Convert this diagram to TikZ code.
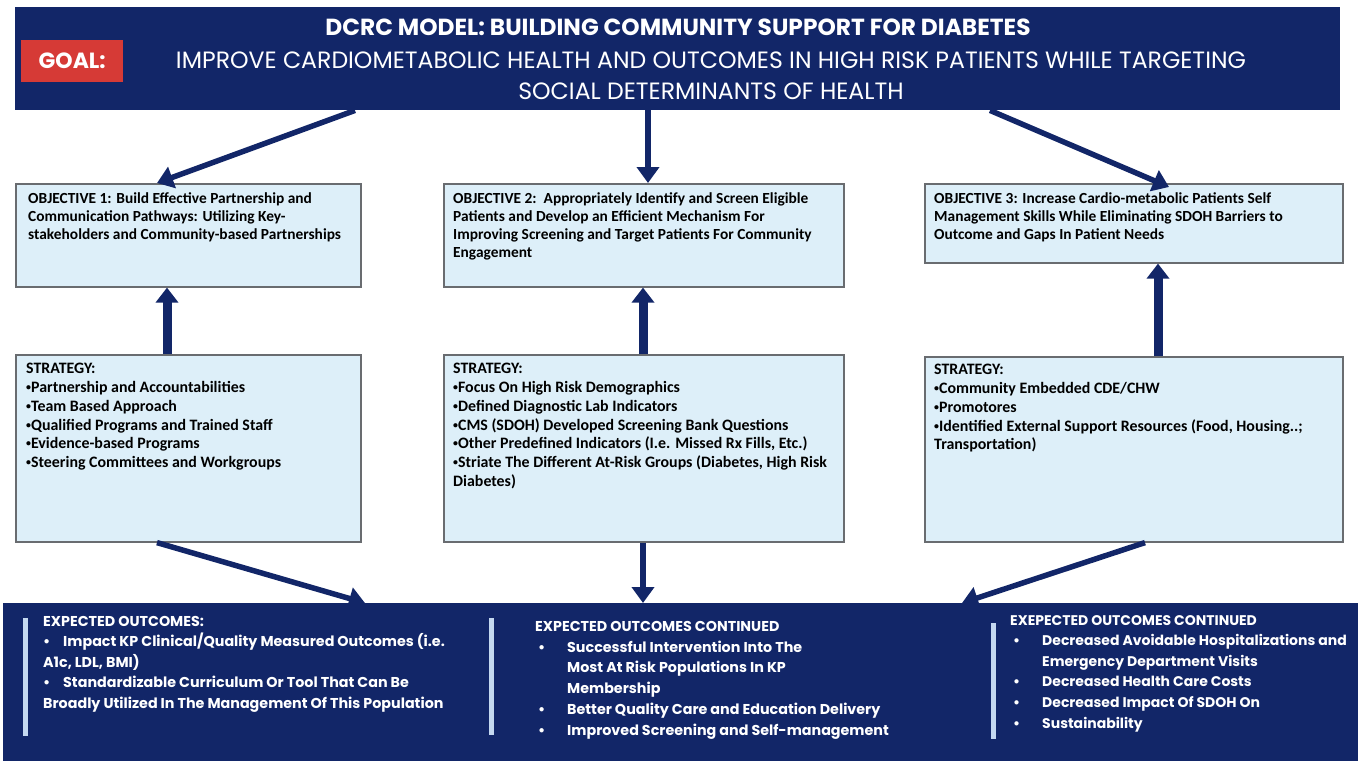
\documentclass[tikz,border=0pt]{standalone}
\usepackage{graphicx}
\usepackage{fontspec}
\setmainfont{Carlito}
\newfontfamily\gothic{Poppins}
\usetikzlibrary{arrows.meta}
\definecolor{navy}{RGB}{18,38,104}
\definecolor{paleblue}{RGB}{221,239,249}
\definecolor{frame}{RGB}{105,108,112}
\definecolor{goalred}{RGB}{214,58,54}
\definecolor{rulebar}{RGB}{196,216,240}
% small list dot used inside the light boxes
\newcommand\listdot{\raisebox{0.25ex}{\scalebox{0.62}{\textbullet}}}
\begin{document}
\begin{tikzpicture}[x=1pt,y=-1pt,
  band/.style={fill=navy,draw=none,inner sep=0,anchor=north west},
  card/.style={fill=paleblue,draw=frame,line width=1.6pt,inner sep=0,anchor=north west},
  cardtext/.style={anchor=north west,inner sep=0,align=left,font=\bfseries\fontsize{15.9}{18.8}\selectfont},
  objtext/.style={cardtext,font=\bfseries\fontsize{15.4}{18.2}\selectfont},
  outtext/.style={anchor=north west,inner sep=0,align=left,text=white},
  flow/.style={draw=navy,line width=5.5pt,-{Triangle[width=22pt,length=16pt]}},
  lift/.style={draw=navy,line width=9pt,-{Triangle[width=22pt,length=15pt]}},
  divider/.style={fill=rulebar,draw=none,inner sep=0,minimum width=5pt,anchor=north west}
]
\useasboundingbox (0,0) rectangle (1358,761);

% ---- header band ----
\node[band,minimum width=1325pt,minimum height=103pt] (hdr) at (15,7) {};
\node[fill=goalred,minimum width=102pt,minimum height=42pt,anchor=north west,inner sep=0,
      text=white,font=\gothic\bfseries\fontsize{22}{22}\selectfont] (goal) at (21,40) {GOAL:};
\node[inner sep=0,text=white,font=\gothic\bfseries\fontsize{23.3}{23.3}\selectfont] (title) at (678,27)
  {DCRC MODEL: BUILDING COMMUNITY SUPPORT FOR DIABETES};
\node[inner sep=0,text=white,font=\gothic\fontsize{23.6}{23.6}\selectfont] (goal1) at (711,60.5)
  {IMPROVE CARDIOMETABOLIC HEALTH AND OUTCOMES IN HIGH RISK PATIENTS WHILE TARGETING};
\node[inner sep=0,text=white,font=\gothic\fontsize{23.6}{23.6}\selectfont] (goal2) at (711,91)
  {SOCIAL DETERMINANTS OF HEALTH};

% ---- objectives ----
\node[card,minimum width=345pt,minimum height=103pt] (o1) at (15,183) {};
\node[card,minimum width=400pt,minimum height=103pt] (o2) at (443,183) {};
\node[card,minimum width=418pt,minimum height=79pt] (o3) at (924,183) {};
\node[objtext] (o1t) at (28,192) {OBJECTIVE 1: Build Effective Partnership and\\
  Communication Pathways: Utilizing Key-\\stakeholders and Community-based Partnerships};
\node[objtext] (o2t) at (453,192) {OBJECTIVE 2:\ \ Appropriately Identify and Screen Eligible\\
  Patients and Develop an Efficient Mechanism For\\
  Improving Screening and Target Patients For Community\\Engagement};
\node[objtext] (o3t) at (934,192) {OBJECTIVE 3: Increase Cardio-metabolic Patients Self\\
  Management Skills While Eliminating SDOH Barriers to\\Outcome and Gaps In Patient Needs};

% ---- strategies ----
\node[card,minimum width=345pt,minimum height=187pt] (s1) at (15,354) {};
\node[card,minimum width=400pt,minimum height=187pt] (s2) at (443,354) {};
\node[card,minimum width=418pt,minimum height=185pt] (s3) at (924,356) {};
\node[cardtext] (s1t) at (26,363) {STRATEGY:\\\listdot Partnership and Accountabilities\\
  \listdot Team Based Approach\\\listdot Qualified Programs and Trained Staff\\
  \listdot Evidence-based Programs\\\listdot Steering Committees and Workgroups};
\node[cardtext] (s2t) at (453,363) {STRATEGY:\\\listdot Focus On High Risk Demographics\\
  \listdot Defined Diagnostic Lab Indicators\\
  \listdot CMS (SDOH) Developed Screening Bank Questions\\
  \listdot Other Predefined Indicators (I.e. Missed Rx Fills, Etc.)\\
  \listdot Striate The Different At-Risk Groups (Diabetes, High Risk\\Diabetes)};
\node[cardtext] (s3t) at (934,364) {STRATEGY:\\\listdot Community Embedded CDE/CHW\\
  \listdot Promotores\\
  \listdot Identified External Support Resources (Food, Housing..;\\Transportation)};

% ---- outcomes band ----
\node[band,minimum width=1355pt,minimum height=158pt] (outb) at (3,603) {};
\node[divider,minimum height=118pt] (bar1) at (22.5,618) {};
\node[divider,minimum height=117pt] (bar2) at (488.5,618) {};
\node[divider,minimum height=116pt] (bar3) at (990.5,623) {};
\node[outtext,font=\gothic\bfseries\fontsize{14.3}{20.5}\selectfont] (out1) at (43,616)
  {EXPECTED OUTCOMES:\\
   \makebox[20pt][l]{\textbullet}Impact KP Clinical/Quality Measured Outcomes (i.e.\\
   A1c, LDL, BMI)\\
   \makebox[20pt][l]{\textbullet}Standardizable Curriculum Or Tool That Can Be\\
   Broadly Utilized In The Management Of This Population};
\node[outtext,font=\gothic\bfseries\fontsize{14.3}{20.8}\selectfont] (out2) at (535,621)
  {EXPECTED OUTCOMES CONTINUED\\
   \hspace{3pt}\makebox[29pt][l]{\textbullet}Successful Intervention Into The\\
   \hspace{32pt}Most At Risk Populations In KP\\
   \hspace{32pt}Membership\\
   \hspace{3pt}\makebox[29pt][l]{\textbullet}Better Quality Care and Education Delivery\\
   \hspace{3pt}\makebox[29pt][l]{\textbullet}Improved Screening and Self-management};
\node[outtext,font=\gothic\bfseries\fontsize{14}{20.6}\selectfont] (out3) at (1010,615)
  {EXEPECTED OUTCOMES CONTINUED\\
   \hspace{3pt}\makebox[29pt][l]{\textbullet}Decreased Avoidable Hospitalizations and\\
   \hspace{32pt}Emergency Department Visits\\
   \hspace{3pt}\makebox[29pt][l]{\textbullet}Decreased Health Care Costs\\
   \hspace{3pt}\makebox[29pt][l]{\textbullet}Decreased Impact Of SDOH On\\
   \hspace{3pt}\makebox[29pt][l]{\textbullet}Sustainability};

% ---- connectors: goal to objectives ----
\draw[flow] ([xshift=340pt]hdr.south west) -- ([xshift=142pt]o1.north west);
\draw[flow] ([xshift=633pt]hdr.south west) -- ([xshift=205pt]o2.north west);
\draw[flow] ([xshift=975pt]hdr.south west) -- ([xshift=245pt,yshift=-4pt]o3.north west);

% ---- connectors: strategies up to objectives ----
\draw[lift] ([xshift=152pt]s1.north west) -- ([xshift=152pt]o1.south west);
\draw[lift] ([xshift=200pt]s2.north west) -- ([xshift=200pt]o2.south west);
\draw[lift] ([xshift=234pt]s3.north west) -- ([xshift=234pt]o3.south west);

% ---- connectors: strategies down to outcomes ----
\draw[flow] ([xshift=142pt]s1.south west) -- ([xshift=362pt]outb.north west);
\draw[flow] ([xshift=200pt]s2.south west) -- ([xshift=640pt]outb.north west);
\draw[flow] ([xshift=221pt]s3.south west) -- ([xshift=959pt]outb.north west);
\end{tikzpicture}
\end{document}
